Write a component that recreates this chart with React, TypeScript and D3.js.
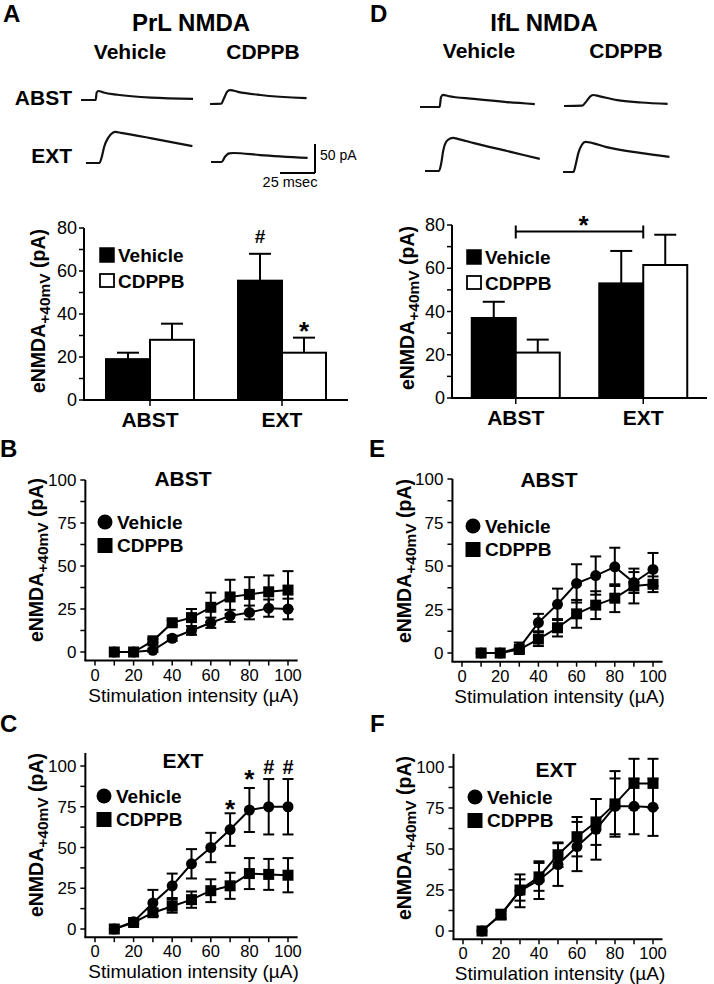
import React from 'react';
import * as d3 from 'd3';

const FONT = "'Liberation Sans', Arial, Helvetica, sans-serif";
type Pt = [number, number];

// ---------------- Bar chart data (eNMDA +40mV, pA; mean and SEM) ----------------
const barCategories = ['ABST', 'EXT'];
const barYTicks = [0, 20, 40, 60, 80];
const barYMinorTicks = [10, 30, 50, 70];
const prlVehicleMean = [19, 55.5];
const prlVehicleSem = [3, 12.5];
const prlCdppbMean = [28, 22];
const prlCdppbSem = [7.5, 7];
const iflVehicleMean = [37, 53];
const iflVehicleSem = [7.5, 15];
const iflCdppbMean = [21, 61.5];
const iflCdppbSem = [6, 14];

// ---------------- Input-output curves ----------------
const intensities = [10, 20, 30, 40, 50, 60, 70, 80, 90, 100];
const lineXTicks = [0, 20, 40, 60, 80, 100];
const lineXMinorTicks = [10, 30, 50, 70, 90];
const lineYTicks = [0, 25, 50, 75, 100];
const lineYMinorTicks = [12.5, 37.5, 62.5, 87.5];

const bVehicleMean = [0, 0, 1, 8, 12.5, 17, 21, 23, 25.5, 25];
const bVehicleSem = [0, 0, 1, 1.5, 2.5, 3, 3.5, 4, 5, 6];
const bCdppbMean = [0, 0, 6.5, 17, 20, 26, 32, 33.5, 35, 36];
const bCdppbSem = [0, 0, 1, 1.5, 5, 8.5, 10, 10, 9.5, 11];

const cVehicleMean = [0, 4.5, 16, 26.5, 40, 50, 61, 73, 75, 75];
const cVehicleSem = [0, 1, 8, 7.5, 9, 9, 10, 13.5, 17, 17];
const cCdppbMean = [0, 4, 10, 14, 18, 23.5, 26.5, 34, 33.5, 33];
const cCdppbSem = [0, 1, 2, 4, 5, 7, 8, 9.5, 9.5, 10.5];
const cAnnotations = [
  { x: 70, sym: '*' },
  { x: 80, sym: '*' },
  { x: 90, sym: '#' },
  { x: 100, sym: '#' },
];

const eVehicleMean = [0, 0, 3, 17.5, 28, 40, 44.5, 49.5, 40.5, 48];
const eVehicleSem = [0, 0, 3, 5, 9, 11, 11, 11, 6, 9.5];
const eCdppbMean = [0, 0, 2, 8, 14.5, 22.5, 27.5, 31.5, 38.5, 39.5];
const eCdppbSem = [0, 0, 1, 4, 5, 8, 8, 8, 10, 4.5];

const fVehicleMean = [0, 10, 24.5, 31, 40.5, 51.5, 62, 76, 76, 75.5];
const fVehicleSem = [0, 3, 10, 11.5, 13, 15, 18.5, 17, 17, 17.5];
const fCdppbMean = [0, 10, 25, 33, 46.5, 57.5, 66.5, 77.5, 90, 90];
const fCdppbSem = [0, 2, 6.5, 8.5, 7.5, 12, 14, 20, 15, 15];

// ---------------- Example traces: [msec, pA] ----------------
const prlVehAbstTrace: Pt[] = [[0, 0], [10.5, 0], [11.2, 13], [12.5, 15.5], [16, 13], [26, 9], [50, 4], [80, 2]];
const prlCdppbAbstTrace: Pt[] = [[0, 0], [8, 0.5], [10, 10], [12.5, 22], [14.5, 24], [20, 21], [36, 15.5], [69, 10]];
const prlVehExtTrace: Pt[] = [[0, 0], [9.5, 0], [11, 8], [13, 28], [16, 44], [19, 52], [21, 53.5], [25, 52], [46, 43], [76, 29]];
const prlCdppbExtTrace: Pt[] = [[0, 0], [7.5, 0], [10, 9], [13, 15], [16, 15.5], [35, 12], [69, 7]];
const iflVehAbstTrace: Pt[] = [[0, 0], [14, 0], [15, 17], [16.5, 21], [20, 19], [38.5, 14], [62, 8.5], [82, 5]];
const iflCdppbAbstTrace: Pt[] = [[0, 0], [13, 0.5], [16, 8], [19, 17], [21, 19], [25, 17], [38, 10], [55, 6], [74, 3.5]];
const iflVehExtTrace: Pt[] = [[0, 0], [10, 0], [11.5, 12], [13, 35], [15, 50], [18, 56], [20, 57], [24, 55], [35, 48], [58.5, 34.5], [82, 21]];
const iflCdppbExtTrace: Pt[] = [[0, 0], [7.5, 0], [9, 12], [11, 33], [13.5, 47], [16, 52], [19, 51], [31, 43], [55, 33], [76, 26]];
const scaleBarMs = 25;
const scaleBarPa = 50;

// trace scales: msec -> px, pA -> px
const tx = d3.scaleLinear().domain([0, 25]).range([0, 35]);
const ty = d3.scaleLinear().domain([0, 50]).range([0, -29]);

function Trace({ data, ox, oy }: { data: Pt[]; ox: number; oy: number }) {
  const line = d3
    .line<Pt>()
    .x((d) => ox + tx(d[0]))
    .y((d) => oy + ty(d[1]))
    .curve(d3.curveMonotoneX);
  return <path d={line(data) || ''} fill="none" stroke="#111" strokeWidth={2.2} strokeLinejoin="round" />;
}

function YLabel({ x, cy, size = 19.5, sub = 15.5 }: { x: number; cy: number; size?: number; sub?: number }) {
  return (
    <text
      transform={`translate(${x},${cy}) rotate(-90)`}
      textAnchor="middle"
      fontFamily={FONT}
      fontWeight="bold"
      fontSize={size}
    >
      <tspan>eNMDA</tspan>
      <tspan fontSize={sub} dy={5}>+40mV</tspan>
      <tspan dy={-5}> (pA)</tspan>
    </text>
  );
}

type BarProps = {
  xLeft: number;
  xRight: number;
  yZero: number;
  yTop: number;
  vMean: number[];
  vSem: number[];
  cMean: number[];
  cSem: number[];
  legendX: number;
  legendY: number;
  labelX: number;
  labelCY: number;
  annotate?: boolean;
  bracket?: boolean;
};

function BarChart(p: BarProps) {
  const x = d3.scalePoint<string>().domain(barCategories).range([p.xLeft, p.xRight]).padding(0.5);
  const y = d3.scaleLinear().domain([0, 80]).range([p.yZero, p.yTop]);
  const bw = 44;
  const cap = 22;
  const bracketVal = 77;
  const bars: { cx: number; x0: number; m: number; s: number; fill: string }[] = [];
  barCategories.forEach((c, i) => {
    const cx = x(c) as number;
    bars.push({ cx: cx - bw / 2, x0: cx - bw, m: p.vMean[i], s: p.vSem[i], fill: '#000' });
    bars.push({ cx: cx + bw / 2, x0: cx, m: p.cMean[i], s: p.cSem[i], fill: '#fff' });
  });
  return (
    <g fontFamily={FONT}>
      {bars.map((b, i) => (
        <g key={i}>
          <line x1={b.cx} x2={b.cx} y1={y(b.m)} y2={y(b.m + b.s)} stroke="#000" strokeWidth={2} />
          <line x1={b.cx - cap / 2} x2={b.cx + cap / 2} y1={y(b.m + b.s)} y2={y(b.m + b.s)} stroke="#000" strokeWidth={2} />
          <rect x={b.x0} y={y(b.m)} width={bw} height={y(0) - y(b.m)} fill={b.fill} stroke="#000" strokeWidth={2} />
        </g>
      ))}
      {/* axes */}
      <line x1={p.xLeft} x2={p.xLeft} y1={y(0)} y2={y(80)} stroke="#000" strokeWidth={2} />
      <line x1={p.xLeft - 1} x2={p.xRight} y1={y(0)} y2={y(0)} stroke="#000" strokeWidth={2} />
      {barYTicks.concat(barYMinorTicks).map((t) => (
        <line key={t} x1={p.xLeft - 5} x2={p.xLeft} y1={y(t)} y2={y(t)} stroke="#000" strokeWidth={1.5} />
      ))}
      {barYTicks.map((t) => (
        <text key={t} x={p.xLeft - 7} y={y(t) + 6} textAnchor="end" fontSize={18}>
          {t}
        </text>
      ))}
      {barCategories.map((c) => (
        <g key={c}>
          <line x1={x(c)} x2={x(c)} y1={y(0)} y2={y(0) + 6} stroke="#000" strokeWidth={1.5} />
          <text x={x(c)} y={y(0) + 27} textAnchor="middle" fontSize={21} fontWeight="bold">
            {c}
          </text>
        </g>
      ))}
      {/* legend */}
      <rect x={p.legendX} y={p.legendY} width={14} height={14} fill="#000" stroke="#000" strokeWidth={1.5} />
      <text x={p.legendX + 18} y={p.legendY + 14} fontSize={19} fontWeight="bold">Vehicle</text>
      <rect x={p.legendX} y={p.legendY + 26} width={14} height={13} fill="#fff" stroke="#000" strokeWidth={1.8} />
      <text x={p.legendX + 18} y={p.legendY + 40} fontSize={19} fontWeight="bold">CDPPB</text>
      {p.annotate && (
        <>
          <text x={bars[2].cx} y={y(bars[2].m + bars[2].s) - 11} textAnchor="middle" fontSize={19} fontWeight="bold">#</text>
          <text x={bars[3].cx} y={y(bars[3].m + bars[3].s) + 2} textAnchor="middle" fontSize={26} fontWeight="bold">*</text>
        </>
      )}
      {p.bracket && (
        <g>
          <line x1={x('ABST')} x2={x('EXT')} y1={y(bracketVal)} y2={y(bracketVal)} stroke="#000" strokeWidth={2} />
          <line x1={x('ABST')} x2={x('ABST')} y1={y(bracketVal) - 6} y2={y(bracketVal) + 7} stroke="#000" strokeWidth={2} />
          <line x1={x('EXT')} x2={x('EXT')} y1={y(bracketVal) - 6} y2={y(bracketVal) + 7} stroke="#000" strokeWidth={2} />
          <text x={((x('ABST') as number) + (x('EXT') as number)) / 2 + 4} y={y(bracketVal) + 3} textAnchor="middle" fontSize={26} fontWeight="bold">*</text>
        </g>
      )}
      <YLabel x={p.labelX} cy={p.labelCY} />
    </g>
  );
}

type LineProps = {
  x0: number;
  x100: number;
  y0: number;
  y100: number;
  yTopVal: number;
  title: string;
  titleX: number;
  titleY: number;
  vMean: number[];
  vSem: number[];
  cMean: number[];
  cSem: number[];
  legendX: number;
  legendY: number;
  labelX: number;
  labelCY: number;
  annotations?: { x: number; sym: string }[];
};

function LineChart(p: LineProps) {
  const x = d3.scaleLinear().domain([0, 100]).range([p.x0, p.x100]);
  const y = d3.scaleLinear().domain([0, 100]).range([p.y0, p.y100]);
  const line = d3
    .line<number>()
    .x((_, i) => x(intensities[i]))
    .y((d) => y(d));
  const axY = y(-5);
  const axX = x(-5);
  const cap = 11;
  const errs = (mean: number[], sem: number[], key: string) =>
    mean.map((m, i) =>
      sem[i] > 0 ? (
        <g key={key + i} stroke="#000" strokeWidth={2}>
          <line x1={x(intensities[i])} x2={x(intensities[i])} y1={y(m - sem[i])} y2={y(m + sem[i])} />
          <line x1={x(intensities[i]) - cap / 2} x2={x(intensities[i]) + cap / 2} y1={y(m + sem[i])} y2={y(m + sem[i])} />
          <line x1={x(intensities[i]) - cap / 2} x2={x(intensities[i]) + cap / 2} y1={y(m - sem[i])} y2={y(m - sem[i])} />
        </g>
      ) : null
    );
  return (
    <g fontFamily={FONT}>
      {/* axes */}
      <line x1={axX} x2={axX} y1={axY} y2={y(p.yTopVal)} stroke="#000" strokeWidth={2} />
      <line x1={axX - 1} x2={x(105)} y1={axY} y2={axY} stroke="#000" strokeWidth={2} />
      {lineYTicks.concat(lineYMinorTicks).map((t) => (
        <line key={'yt' + t} x1={axX - 5} x2={axX} y1={y(t)} y2={y(t)} stroke="#000" strokeWidth={1.5} />
      ))}
      {lineYTicks.map((t) => (
        <text key={'yl' + t} x={axX - 9} y={y(t) + 6} textAnchor="end" fontSize={17}>
          {t}
        </text>
      ))}
      {lineXTicks.concat(lineXMinorTicks).map((t) => (
        <line key={'xt' + t} x1={x(t)} x2={x(t)} y1={axY} y2={axY + 5} stroke="#000" strokeWidth={1.5} />
      ))}
      {lineXTicks.map((t) => (
        <text key={'xl' + t} x={x(t)} y={axY + 20} textAnchor="middle" fontSize={16.5}>
          {t}
        </text>
      ))}
      <text x={x(50) + 2} y={axY + 41} textAnchor="middle" fontSize={19}>
        Stimulation intensity (µA)
      </text>
      {/* data */}
      {errs(p.cMean, p.cSem, 'c')}
      {errs(p.vMean, p.vSem, 'v')}
      <path d={line(p.vMean) || ''} fill="none" stroke="#000" strokeWidth={2} />
      <path d={line(p.cMean) || ''} fill="none" stroke="#000" strokeWidth={2} />
      {p.vMean.map((m, i) => (
        <circle key={'vc' + i} cx={x(intensities[i])} cy={y(m)} r={5.5} fill="#000" />
      ))}
      {p.cMean.map((m, i) => (
        <rect key={'cr' + i} x={x(intensities[i]) - 5.5} y={y(m) - 5.5} width={11} height={11} fill="#000" />
      ))}
      {(p.annotations || []).map((a) => {
        const i = intensities.indexOf(a.x);
        const top = y(p.vMean[i] + p.vSem[i]);
        return a.sym === '*' ? (
          <text key={'an' + a.x} x={x(a.x)} y={top + (a.x === 70 ? 5 : 0)} textAnchor="middle" fontSize={26} fontWeight="bold">*</text>
        ) : (
          <text key={'an' + a.x} x={x(a.x)} y={top - 5} textAnchor="middle" fontSize={20} fontWeight="bold">#</text>
        );
      })}
      {/* title + legend */}
      <text x={p.titleX} y={p.titleY} textAnchor="middle" fontSize={21} fontWeight="bold">
        {p.title}
      </text>
      <circle cx={p.legendX} cy={p.legendY} r={7.5} fill="#000" />
      <text x={p.legendX + 12} y={p.legendY + 7} fontSize={19} fontWeight="bold">Vehicle</text>
      <rect x={p.legendX - 7.5} y={p.legendY + 16} width={15} height={15} fill="#000" />
      <text x={p.legendX + 12} y={p.legendY + 30} fontSize={19} fontWeight="bold">CDPPB</text>
      <YLabel x={p.labelX} cy={p.labelCY} />
    </g>
  );
}

export default function App() {
  return (
    <div style={{ margin: 0 }}>
      <style>{`body{margin:0;background:#fff}`}</style>
      <svg width={714} height={984} viewBox="0 0 714 984" style={{ display: 'block', background: '#fff' }}>
        {/* ---------- Panel headers ---------- */}
        <g fontFamily={FONT} fontWeight="bold" fill="#000">
          <text x={3} y={22} fontSize={24}>A</text>
          <text x={191} y={31} fontSize={24} textAnchor="middle">PrL NMDA</text>
          <text x={130} y={59} fontSize={21} textAnchor="middle">Vehicle</text>
          <text x={263} y={59} fontSize={21} textAnchor="middle">CDPPB</text>
          <text x={72} y={105} fontSize={21} textAnchor="end">ABST</text>
          <text x={72} y={163} fontSize={21} textAnchor="end">EXT</text>

          <text x={370} y={22} fontSize={24}>D</text>
          <text x={544} y={31} fontSize={24} textAnchor="middle">IfL NMDA</text>
          <text x={479} y={58} fontSize={21} textAnchor="middle">Vehicle</text>
          <text x={626} y={58} fontSize={21} textAnchor="middle">CDPPB</text>

          <text x={0} y={457} fontSize={24}>B</text>
          <text x={0} y={732} fontSize={24}>C</text>
          <text x={369} y={457} fontSize={24}>E</text>
          <text x={370} y={732} fontSize={24}>F</text>
        </g>
        <Trace data={prlVehAbstTrace} ox={81} oy={100} />
        <Trace data={prlCdppbAbstTrace} ox={210} oy={104} />
        <Trace data={prlVehExtTrace} ox={86} oy={163} />
        <Trace data={prlCdppbExtTrace} ox={211} oy={162} />
        <Trace data={iflVehAbstTrace} ox={420} oy={107} />
        <Trace data={iflCdppbAbstTrace} ox={564} oy={106} />
        <Trace data={iflVehExtTrace} ox={425} oy={171} />
        <Trace data={iflCdppbExtTrace} ox={563} oy={172} />
        {/* scale bar */}
        <g stroke="#000" strokeWidth={2} fill="none">
          <line x1={315 - tx(scaleBarMs)} x2={315} y1={173} y2={173} />
          <line x1={315} x2={315} y1={173} y2={173 + ty(scaleBarPa)} />
        </g>
        <text x={320} y={160} fontFamily={FONT} fontSize={14}>50 pA</text>
        <text x={290} y={187} fontFamily={FONT} fontSize={14.5} textAnchor="middle">25 msec</text>

        {/* ---------- Bar charts ---------- */}
        <BarChart
          xLeft={84}
          xRight={348}
          yZero={400}
          yTop={228}
          vMean={prlVehicleMean}
          vSem={prlVehicleSem}
          cMean={prlCdppbMean}
          cSem={prlCdppbSem}
          legendX={100}
          legendY={248}
          labelX={45}
          labelCY={311}
          annotate
        />
        <BarChart
          xLeft={452}
          xRight={707}
          yZero={398}
          yTop={225}
          vMean={iflVehicleMean}
          vSem={iflVehicleSem}
          cMean={iflCdppbMean}
          cSem={iflCdppbSem}
          legendX={467}
          legendY={250}
          labelX={414}
          labelCY={308}
          bracket
        />

        {/* ---------- Input/output curves ---------- */}
        <LineChart
          x0={95} x100={288} y0={652} y100={480} yTopVal={100}
          title="ABST" titleX={183} titleY={486}
          vMean={bVehicleMean} vSem={bVehicleSem} cMean={bCdppbMean} cSem={bCdppbSem}
          legendX={105} legendY={522} labelX={43} labelCY={560}
        />
        <LineChart
          x0={95} x100={288} y0={929} y100={766} yTopVal={108}
          title="EXT" titleX={183} titleY={768}
          vMean={cVehicleMean} vSem={cVehicleSem} cMean={cCdppbMean} cSem={cCdppbSem}
          legendX={104} legendY={796} labelX={43} labelCY={835}
          annotations={cAnnotations}
        />
        <LineChart
          x0={462} x100={653} y0={653} y100={479} yTopVal={100}
          title="ABST" titleX={549} titleY={487}
          vMean={eVehicleMean} vSem={eVehicleSem} cMean={eCdppbMean} cSem={eCdppbSem}
          legendX={473} legendY={526} labelX={411} labelCY={561}
        />
        <LineChart
          x0={463} x100={653} y0={931} y100={767} yTopVal={108}
          title="EXT" titleX={556} titleY={777}
          vMean={fVehicleMean} vSem={fVehicleSem} cMean={fCdppbMean} cSem={fCdppbSem}
          legendX={475} legendY={797} labelX={411} labelCY={838}
        />
      </svg>
    </div>
  );
}
